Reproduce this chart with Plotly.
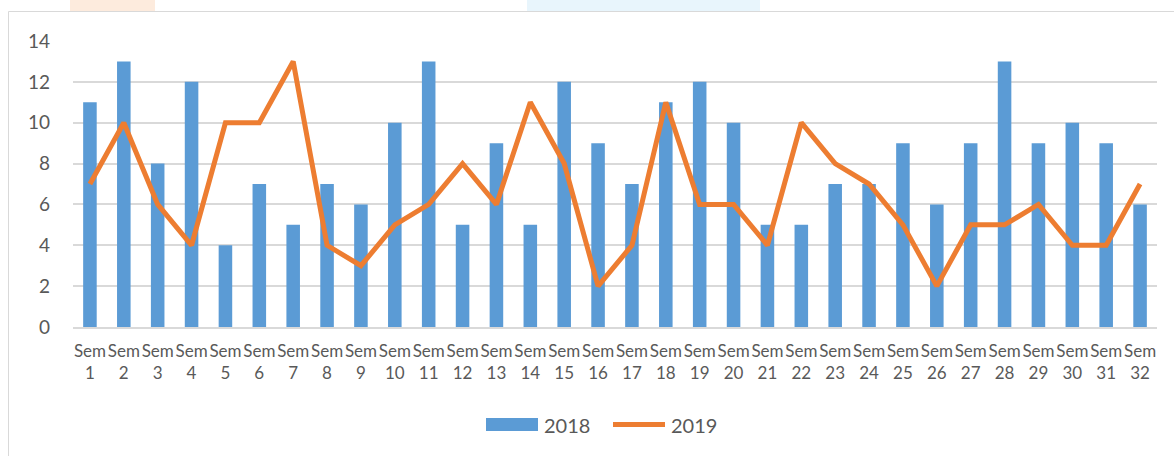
import plotly.graph_objects as go

weeks = [f"Sem<br>{i}" for i in range(1, 33)]
v2018 = [11, 13, 8, 12, 4, 7, 5, 7, 6, 10, 13, 5, 9, 5, 12, 9, 7, 11, 12, 10, 5, 5, 7, 7, 9, 6, 9, 13, 9, 10, 9, 6]
v2019 = [7, 10, 6, 4, 10, 10, 13, 4, 3, 5, 6, 8, 6, 11, 8, 2, 4, 11, 6, 6, 4, 10, 8, 7, 5, 2, 5, 5, 6, 4, 4, 7]
y_ticks = [0, 2, 4, 6, 8, 10, 12, 14]

BAR_COLOR = "#5B9BD5"
LINE_COLOR = "#ED7D31"
TEXT_COLOR = "#595959"

W, H = 1174, 456
L, R, T, B = 73, 17, 41, 129
pw, ph = W - L - R, H - T - B

def px(x):
    return (x - L) / pw

def py(y):
    return (H - B - y) / ph

fig = go.Figure()
fig.add_trace(go.Bar(x=weeks, y=v2018, name="2018", marker=dict(color=BAR_COLOR, line=dict(width=0)),
                     showlegend=False))
fig.add_trace(go.Scatter(x=weeks, y=v2019, name="2019", mode="lines",
                         line=dict(color=LINE_COLOR, width=5), showlegend=False))

shapes = [
    dict(type="rect", xref="paper", yref="paper", x0=px(70), x1=px(155), y0=py(11), y1=py(0),
         fillcolor="#FDEBDD", line=dict(width=0), layer="below"),
    dict(type="rect", xref="paper", yref="paper", x0=px(527), x1=px(760), y0=py(11), y1=py(0),
         fillcolor="#E8F5FC", line=dict(width=0), layer="below"),
    dict(type="rect", xref="paper", yref="paper", x0=px(8.5), x1=px(1180), y0=py(470), y1=py(11.5),
         fillcolor="rgba(0,0,0,0)", line=dict(color="#D9D9D9", width=1), layer="below"),
    # legend swatches
    dict(type="rect", xref="paper", yref="paper", x0=px(486), x1=px(538), y0=py(431), y1=py(418),
         fillcolor=BAR_COLOR, line=dict(width=0)),
    dict(type="line", xref="paper", yref="paper", x0=px(613), x1=px(665), y0=py(424.5), y1=py(424.5),
         line=dict(color=LINE_COLOR, width=5)),
]

annotations = [
    dict(xref="paper", yref="paper", x=px(542), y=py(425), xanchor="left", yanchor="middle",
         text="2018", showarrow=False, font=dict(size=20, color=TEXT_COLOR)),
    dict(xref="paper", yref="paper", x=px(669), y=py(425), xanchor="left", yanchor="middle",
         text="2019", showarrow=False, font=dict(size=20, color=TEXT_COLOR)),
]

fig.update_layout(
    width=W, height=H,
    margin=dict(l=L, r=R, t=T, b=B),
    paper_bgcolor="white", plot_bgcolor="white",
    font=dict(family="Lato, Carlito, sans-serif", color=TEXT_COLOR, size=18),
    bargap=0.6,
    showlegend=False,
    shapes=shapes,
    annotations=annotations,
    xaxis=dict(showgrid=False, showline=True, linecolor="#D9D9D9", linewidth=1.5,
               ticks="", tickfont=dict(size=17), tickangle=0, fixedrange=True, ticklabelstandoff=8),
    yaxis=dict(range=[0, 14], tickvals=y_ticks, showgrid=True, gridcolor="#D9D9D9", gridwidth=1.5,
               zeroline=False, showline=False, ticks="", tickfont=dict(size=19), ticklabelstandoff=22),
)

fig.write_html("out.html", config={"displayModeBar": False},
               post_script="document.body.style.margin='0';document.body.style.overflow='hidden';")
